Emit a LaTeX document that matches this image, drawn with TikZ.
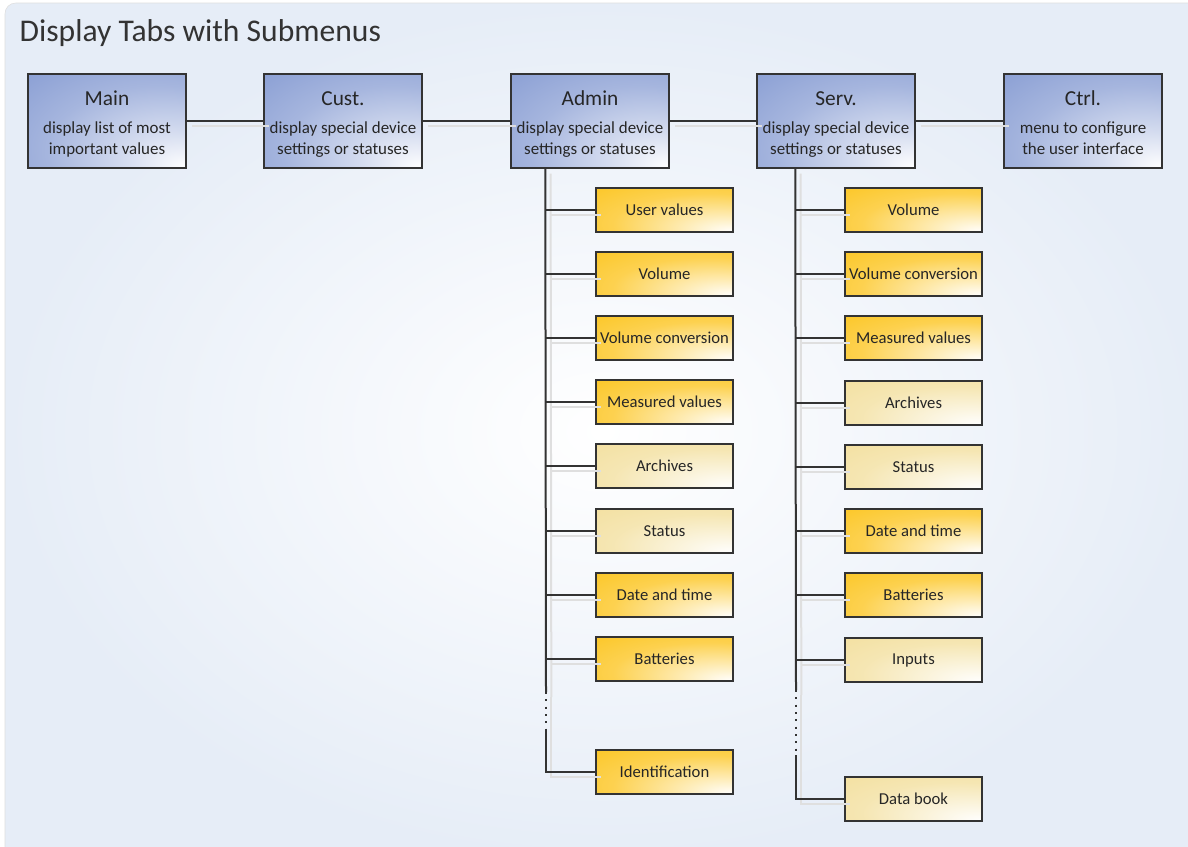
\documentclass[tikz,border=0pt]{standalone}
\usepackage{fontspec}
\setmainfont{Carlito}

\definecolor{tabblue}{RGB}{136,157,211}
\definecolor{subgold}{RGB}{252,198,36}
\definecolor{subpale}{RGB}{243,224,160}
\definecolor{panelblue}{RGB}{230,237,247}
\definecolor{linegray}{RGB}{51,51,51}
\newcommand{\headfont}{\fontsize{16}{19}\selectfont\rule{0pt}{17.5pt}}
% light spot in the lower right corner of a box
\pgfdeclareradialshading{tabglow}{\pgfpoint{25bp}{-25bp}}{color(0bp)=(white);
  color(15bp)=(white!65!tabblue); color(35bp)=(white!25!tabblue); color(55bp)=(tabblue);
  color(100bp)=(tabblue)}
\pgfdeclareradialshading{goldglow}{\pgfpoint{25bp}{-25bp}}{color(0bp)=(white);
  color(15bp)=(white!65!subgold); color(35bp)=(white!20!subgold); color(55bp)=(subgold);
  color(100bp)=(subgold)}
\pgfdeclareradialshading{paleglow}{\pgfpoint{25bp}{-25bp}}{color(0bp)=(white);
  color(15bp)=(white!65!subpale); color(35bp)=(white!20!subpale); color(55bp)=(subpale);
  color(100bp)=(subpale)}

\begin{document}
\begin{tikzpicture}[x=0.75pt,y=0.75pt,
  tab/.style={draw=linegray,line width=1.1pt,shade,shading=tabglow,minimum width=118.5pt,
    minimum height=70.5pt,align=center,font=\fontsize{12.7}{15.2}\selectfont,text=black!85,
    inner sep=2pt},
  sub/.style={draw=linegray,line width=1.1pt,minimum width=102.75pt,minimum height=33pt,
    font=\fontsize{12.5}{15}\selectfont,text=black!85,inner sep=1pt},
  hot/.style={sub,shade,shading=goldglow},
  pale/.style={sub,shade,shading=paleglow},
  link/.style={draw=linegray,line width=1.5pt,
    preaction={draw=gray!25,line width=1.5pt,transform canvas={xshift=4pt,yshift=-3.75pt}}},
  gap/.style={link,dash pattern=on 1.5pt off 4pt}]
\useasboundingbox (0,0) rectangle (1188,-846);
% panel behind the diagram
\fill[white] (0,0) rectangle (1188,-846);
\shade[draw=gray!25,rounded corners=8pt,inner color=white,outer color=panelblue]
  (5,-3) rectangle (1200,-860);
\node[anchor=west,font=\fontsize{23.7}{28}\selectfont,text=black!80] (title) at (15,-33)
  {Display Tabs with Submenus};
% display tabs
\node[tab] (main) at (107,-121) {{\headfont Main}\\[6.5pt]display list of most\\important values\strut};
\node[tab] (cust) at (343,-121) {{\headfont Cust.}\\[6.5pt]display special device\\settings or statuses\strut};
\node[tab] (admin) at (590,-121) {{\headfont Admin}\\[6.5pt]display special device\\settings or statuses\strut};
\node[tab] (serv) at (836,-121) {{\headfont Serv.}\\[6.5pt]display special device\\settings or statuses\strut};
\node[tab] (ctrl) at (1083,-121) {{\headfont Ctrl.}\\[6.5pt]menu to configure\\the user interface\strut};
\draw[link] (main) -- (cust);
\draw[link] (cust) -- (admin);
\draw[link] (admin) -- (serv);
\draw[link] (serv) -- (ctrl);
% admin submenus
\node[hot] (auser) at (664.5,-210) {User values};
\node[hot] (avol) at (664.5,-274) {Volume};
\node[hot] (aconv) at (664.5,-338) {Volume conversion};
\node[hot] (ameas) at (664.5,-402) {Measured values};
\node[pale] (aarch) at (664.5,-466) {Archives};
\node[pale] (astat) at (664.5,-531) {Status};
\node[hot] (adate) at (664.5,-595) {Date and time};
\node[hot] (abatt) at (664.5,-659) {Batteries};
\node[hot] (aident) at (664.5,-772) {Identification};
\coordinate (atop) at ([xshift=26.25pt]admin.south west);
\coordinate (agap1) at (546,-692);
\coordinate (agap2) at (546,-731);
\draw[link] (atop) -- (agap1);
\draw[gap] (agap1) -- (agap2);
\draw[link] (agap2) |- (aident);
\draw[link] (atop |- auser) -- (auser);
\draw[link] (atop |- avol) -- (avol);
\draw[link] (atop |- aconv) -- (aconv);
\draw[link] (atop |- ameas) -- (ameas);
\draw[link] (atop |- aarch) -- (aarch);
\draw[link] (atop |- astat) -- (astat);
\draw[link] (atop |- adate) -- (adate);
\draw[link] (atop |- abatt) -- (abatt);
% serv submenus
\node[hot] (svol) at (913.5,-210) {Volume};
\node[hot] (sconv) at (913.5,-274) {Volume conversion};
\node[hot] (smeas) at (913.5,-338) {Measured values};
\node[pale] (sarch) at (913.5,-403) {Archives};
\node[pale] (sstat) at (913.5,-467) {Status};
\node[hot] (sdate) at (913.5,-531) {Date and time};
\node[hot] (sbatt) at (913.5,-595) {Batteries};
\node[pale] (sinp) at (913.5,-660) {Inputs};
\node[pale] (sbook) at (913.5,-799) {Data book};
\coordinate (stop) at ([xshift=29.25pt]serv.south west);
\coordinate (sgap1) at (796,-690);
\coordinate (sgap2) at (796,-755);
\draw[link] (stop) -- (sgap1);
\draw[gap] (sgap1) -- (sgap2);
\draw[link] (sgap2) |- (sbook);
\draw[link] (stop |- svol) -- (svol);
\draw[link] (stop |- sconv) -- (sconv);
\draw[link] (stop |- smeas) -- (smeas);
\draw[link] (stop |- sarch) -- (sarch);
\draw[link] (stop |- sstat) -- (sstat);
\draw[link] (stop |- sdate) -- (sdate);
\draw[link] (stop |- sbatt) -- (sbatt);
\draw[link] (stop |- sinp) -- (sinp);
\end{tikzpicture}
\end{document}
